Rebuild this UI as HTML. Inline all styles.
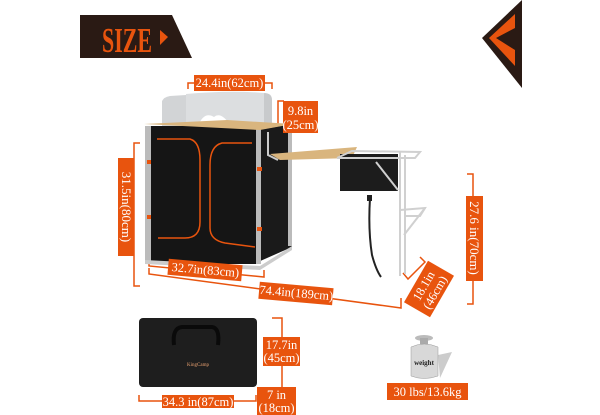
<!DOCTYPE html>
<html><head><meta charset="utf-8"><style>
html,body{margin:0;padding:0;background:#fff}
svg{display:block}
text{font-family:"Liberation Serif",serif;fill:#fff}
</style></head><body>
<svg width="600" height="415" viewBox="0 0 600 415" xmlns="http://www.w3.org/2000/svg">
<rect width="600" height="415" fill="#fff"/>
<!-- SIZE banner -->
<polygon points="80,15 172,15 192,58 80,58" fill="#2a1a14"/>
<text x="102" y="52" font-family="Liberation Sans" font-weight="bold" font-size="35" style="fill:#e8540e" textLength="50" lengthAdjust="spacingAndGlyphs">SIZE</text>
<polygon points="160,30 168,37 160,45" fill="#e8540e"/>
<!-- right chevron -->
<polygon points="522,0 522,88 482,38" fill="#2a1a14"/>
<polygon points="515,14 515,28 496,38 515,50 515,66 489,38" fill="#e8540e"/>

<g stroke="#e8540e" stroke-width="1.5" fill="none">
<polyline points="188,89 188,83 272,83 272,89"/>
<polyline points="284,101 278,101 278,140 272,140"/>
<polyline points="140,143 134,143 134,286 140,286"/>
<polyline points="467,174 473,174 473,304 467,304"/>
<polyline points="149,260 149,266 264,277 264,270"/>
<polyline points="149,268 149,274 401,308 401,298"/>
<polyline points="403,273 408,279 425,262 420,257"/>
<polyline points="272,318 282,318 282,401"/>
<polyline points="139,395 139,401 256,401 256,395"/>
</g>

<!-- windscreen -->
<path d="M162,126 L162,101 Q164,97 170,96 L186,95 L186,126 Z" fill="#d2d4d6"/>
<path d="M186,126 L186,94 Q230,90 264,93 L264,126 Z" fill="#dcdee0"/>
<path d="M264,126 L264,93 Q272,93 272,100 L272,130 Z" fill="#c8cacc"/>
<path d="M198,126 Q204,111 214,117 Q221,111 231,126 Z" fill="#fff"/>
<!-- cabinet side -->
<polygon points="258,130 292,124 292,247 258,262" fill="#1a1a1a"/>
<!-- cabinet front -->
<rect x="145" y="126" width="115" height="138" fill="#151515"/>
<rect x="145" y="126" width="6" height="135" fill="#bbb"/>
<rect x="256" y="128" width="5" height="136" fill="#bbb"/>
<rect x="288" y="126" width="4" height="120" fill="#bbb"/>
<polygon points="145,260 260,266 292,246 292,250 260,270 145,264" fill="#ccc"/>
<!-- top -->
<polygon points="144,124 227,120 293,124 260,130" fill="#d9b57e"/>
<!-- zippers -->
<g stroke="#e8540e" stroke-width="1.5" fill="none">
<path d="M157,139 L190,139 Q200,142 200,160 L200,222 Q200,238 185,238 L158,238"/>
<path d="M252,143 L222,143 Q210,146 210,165 L210,228 Q210,240 225,243 L255,247"/>
</g>
<g fill="#e8540e">
<rect x="147" y="160" width="4" height="4"/><rect x="147" y="215" width="4" height="4"/>
<rect x="257" y="167" width="5" height="4"/><rect x="257" y="227" width="5" height="4"/>
</g>
<!-- side table -->
<polygon points="270,154 357,147 352,158 280,160" fill="#d9b57e"/>
<polyline points="268,132 268,155 278,160" stroke="#ccc" stroke-width="2" fill="none"/>
<!-- sink -->
<rect x="340" y="154" width="58" height="37" fill="#1c1c1c"/>
<g stroke="#d0d0d0" stroke-width="2" fill="none">
<polyline points="337,158 352,151 420,152 415,158 337,158"/>
<line x1="400" y1="152" x2="400" y2="276"/>
<line x1="405" y1="155" x2="405" y2="274"/>
<line x1="376" y1="162" x2="398" y2="190"/>
<polyline points="400,210 425,208 420,216 404,216"/>
<line x1="404" y1="235" x2="425" y2="208"/>
</g>
<path d="M370,198 Q368,230 372,255 Q376,270 381,277" stroke="#222" stroke-width="2" fill="none"/>
<rect x="367" y="195" width="5" height="6" fill="#222"/>

<!-- labels -->
<g fill="#e8540e">
<rect x="194" y="75" width="71" height="16"/>
<rect x="283" y="101" width="35" height="32"/>
<rect x="118" y="158" width="16" height="98"/>
<rect x="466" y="196" width="17" height="85"/>
<rect x="168" y="262" width="74" height="16" transform="rotate(5 205 270)"/>
<rect x="259" y="285" width="74" height="17" transform="rotate(5 296 293)"/>
<rect x="405" y="274" width="48" height="30" transform="rotate(-60 429 289)"/>
<rect x="263" y="337" width="37" height="29"/>
<rect x="162" y="395" width="72" height="13"/>
<rect x="257" y="387" width="39" height="28"/>
<rect x="387" y="383" width="81" height="17"/>
</g>
<g font-size="12.5">
<text x="229.5" y="87" text-anchor="middle">24.4in(62cm)</text>
<text x="300.5" y="115" text-anchor="middle">9.8in</text>
<text x="300.5" y="129" text-anchor="middle">(25cm)</text>
<text transform="translate(122,207) rotate(90)" text-anchor="middle" font-size="13">31.5in(80cm)</text>
<text transform="translate(470,238) rotate(90)" text-anchor="middle" font-size="13">27.6 in(70cm)</text>
<text transform="translate(205,274) rotate(5)" text-anchor="middle">32.7in(83cm)</text>
<text transform="translate(296,297) rotate(5)" text-anchor="middle">74.4in(189cm)</text>
<text transform="translate(429,289) rotate(-60)" text-anchor="middle"><tspan x="0" y="-2">18.1in</tspan><tspan x="0" y="11">(46cm)</tspan></text>
<text x="281.5" y="349" text-anchor="middle">17.7in</text>
<text x="281.5" y="362" text-anchor="middle">(45cm)</text>
<text x="198" y="406" text-anchor="middle">34.3 in(87cm)</text>
<text x="276.5" y="399" text-anchor="middle">7 in</text>
<text x="276.5" y="412" text-anchor="middle">(18cm)</text>
<text x="427.5" y="396" text-anchor="middle">30 lbs/13.6kg</text>
</g>

<!-- bag -->
<rect x="139" y="318" width="118" height="69" rx="4" fill="#1e1e1e"/>
<path d="M174,345 Q172,328 182,327 L212,327 Q220,328 218,345" stroke="#0a0a0a" stroke-width="4" fill="none"/>
<text x="198" y="366" font-family="Liberation Sans" font-size="5" text-anchor="middle" style="fill:#e8a070">KingCamp</text>

<!-- weight -->
<polygon points="438,355 452,352 440,378" fill="#ccc"/>
<ellipse cx="424" cy="338" rx="9" ry="3" fill="#bbb"/>
<rect x="420" y="338" width="8" height="6" fill="#aaa"/>
<path d="M411,347 Q424,341 438,347 L438,376 Q424,381 411,376 Z" fill="#d8d8d8" stroke="#999" stroke-width="0.5"/>
<text x="424" y="365" font-family="Liberation Sans" font-size="7" font-weight="bold" text-anchor="middle" style="fill:#222">weight</text>
</svg>
</body></html>
